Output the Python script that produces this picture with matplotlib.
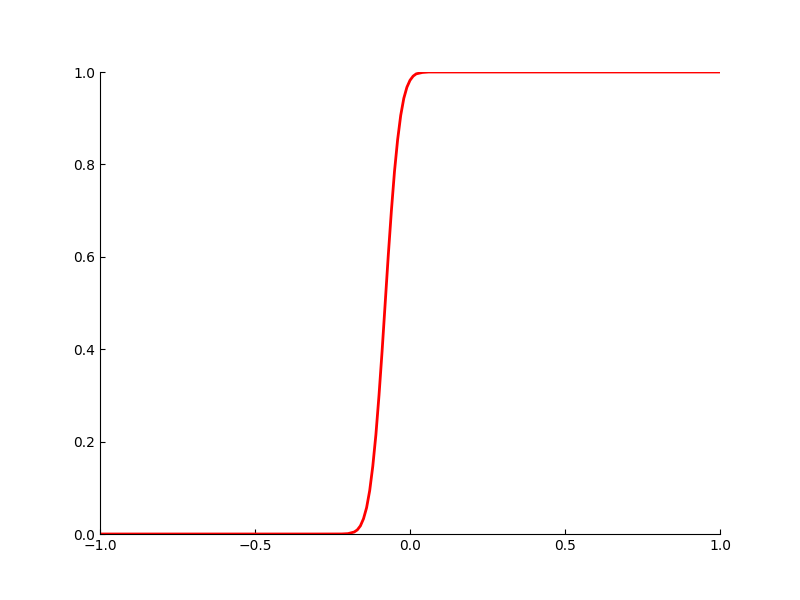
import matplotlib
matplotlib.use("Agg")
import matplotlib.pyplot as plt

# points
x_vals = [-1.0, -0.3, -0.22, -0.2, -0.18, -0.17, -0.16, -0.15, -0.14, -0.13,
          -0.12, -0.11, -0.10, -0.09, -0.08, -0.07, -0.06, -0.05, -0.04, -0.03,
          -0.02, -0.01, 0.0, 0.01, 0.02, 0.04, 0.06, 1.0]
y_vals = [0.0, 0.0, 0.0001, 0.0008, 0.0043, 0.0089, 0.0176, 0.033, 0.057, 0.094,
          0.147, 0.215, 0.30, 0.396, 0.5, 0.604, 0.70, 0.785, 0.853, 0.906,
          0.943, 0.967, 0.982, 0.991, 0.996, 0.999, 1.0, 1.0]

fig, ax = plt.subplots(figsize=(8, 6), dpi=100)
ax.plot(x_vals, y_vals, color='red', linewidth=2)

ax.set_xlim(-1, 1)
ax.set_ylim(0, 1)
ax.spines['top'].set_visible(False)
ax.spines['right'].set_visible(False)
ax.tick_params(direction='in', top=False, right=False)
ax.set_xticks([-1.0, -0.5, 0.0, 0.5, 1.0])
ax.set_yticks([0.0, 0.2, 0.4, 0.6, 0.8, 1.0])

fig.savefig('out.png')
